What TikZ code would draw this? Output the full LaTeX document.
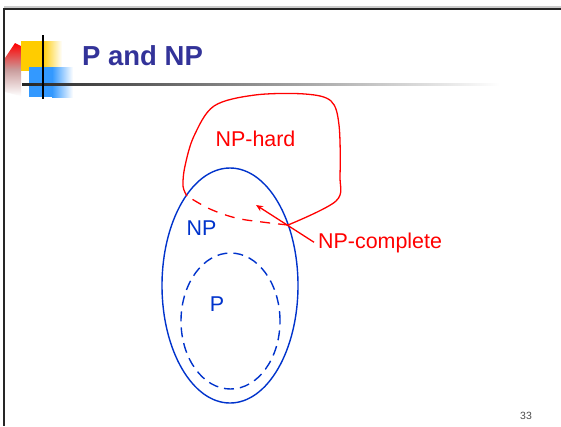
\documentclass[tikz,border=0pt]{standalone}
\usepackage{fontspec}
\setmainfont{Liberation Sans}
\usetikzlibrary{arrows.meta,shapes.geometric}
\definecolor{titleblue}{RGB}{51,51,153}
\definecolor{npblue}{RGB}{0,51,204}
\definecolor{npred}{RGB}{255,0,0}
\definecolor{deco yellow}{RGB}{255,204,0}
\definecolor{deco blue}{RGB}{51,153,255}
\tikzset{
  redline/.style={draw=npred, line width=1.3bp},
  blueline/.style={draw=npblue, line width=1.4bp},
  redlabel/.style={text=npred, font=\fontsize{21.5}{24}\selectfont, inner sep=0pt, text depth=0pt},
  bluelabel/.style={text=npblue, font=\fontsize{21.5}{24}\selectfont, inner sep=0pt, text depth=0pt},
}
\begin{document}
\begin{tikzpicture}[x=1bp,y=-1bp]
\useasboundingbox (0,0) rectangle (561,426);
\fill[white] (0,0) rectangle (561,426);
% slide frame
\fill[gray!40] (4,6) rectangle (561,8);
\draw[line width=2.5bp, black!85] (4,9) -- (561,9);
\draw[line width=2.5bp, black!85] (4,8) -- (4,426);
% decoration
\shade[top color=red, bottom color=white, middle color=red!30!gray!60]
  (5,58) -- (15,43) -- (21,46) -- (21,96) -- (5,92) -- cycle;
\fill[deco yellow] (21,41) rectangle (42,71);
\shade[left color=deco yellow, right color=white] (42,41) rectangle (62,71);
\fill[deco blue] (29,67) rectangle (52,97);
\shade[left color=deco blue, right color=white] (52,67) rectangle (73,97);
\shade[left color=black!85, right color=white] (22,83) rectangle (500,85.5);
\draw[line width=2.2bp, black] (43,35) -- (43,99);
% title
\node[anchor=base west, inner sep=0pt, text=titleblue,
      font=\bfseries\fontsize{27.6}{30}\selectfont] (title) at (82,65) {P and NP};
% NP and P sets
\node[ellipse, blueline, minimum width=136bp, minimum height=235bp, inner sep=0pt] (NP) at (230,285.5) {};
\node[ellipse, blueline, dash pattern=on 10bp off 6bp, minimum width=99bp, minimum height=136bp, inner sep=0pt] (P) at (230.5,321) {};
% NP-hard blob
\draw[redline] plot[smooth, tension=0.55] coordinates {
  (187,196) (183,186) (185,166) (194,136) (214,106) (255,95) (305,94)
  (331,101) (339,125) (340,175) (336,201) (288,225)};
\draw[redline, dash pattern=on 10bp off 8bp] plot[smooth, tension=0.6] coordinates {
  (288,225) (262,222) (236,218) (210,209) (187,196)};
% labels
\node[redlabel, anchor=base] (nphard) at (255.5,146) {NP-hard};
\node[bluelabel, anchor=base] (nplabel) at (201.5,235) {NP};
\node[bluelabel, anchor=base] (plabel) at (217,311) {P};
\node[redlabel, anchor=base west] (npc) at (318,248) {NP-complete};
\coordinate (tip) at (256,205);
\draw[redline, -{Stealth[length=7bp,width=6bp]}] ([xshift=-4bp,yshift=-2bp]npc.west) -- (tip);
% page number
\node[anchor=base, inner sep=0pt, text=black!70, font=\fontsize{10.5}{12}\selectfont] (pagenum) at (526,419) {33};
\end{tikzpicture}
\end{document}
